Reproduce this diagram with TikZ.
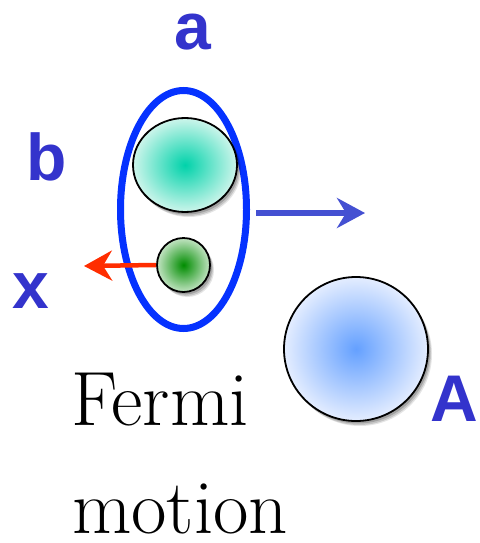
\documentclass[tikz,border=0pt]{standalone}
\usepackage{fontspec}
\newfontfamily\lblfont{Liberation Sans}[BoldFont={* Bold}]
\usetikzlibrary{shapes.geometric,arrows.meta,shadows}
\definecolor{lblblue}{RGB}{51,51,204}
\definecolor{ringblue}{RGB}{5,50,255}
\definecolor{arrblue}{RGB}{68,80,210}
\definecolor{arrred}{RGB}{255,45,0}
\definecolor{tealin}{RGB}{0,210,170}
\definecolor{tealout}{RGB}{205,245,235}
\definecolor{greenin}{RGB}{0,140,0}
\definecolor{greenout}{RGB}{195,228,195}
\definecolor{bluein}{RGB}{100,160,255}
\definecolor{blueout}{RGB}{228,237,255}
\tikzset{
  ball/.style={ellipse, draw=black, line width=1.8pt, inner sep=0pt,
    drop shadow={shadow xshift=4pt, shadow yshift=-5pt, opacity=0.10, fill=black},
    drop shadow={shadow xshift=3pt, shadow yshift=-4pt, opacity=0.14, fill=black},
    drop shadow={shadow xshift=2pt, shadow yshift=-2.5pt, opacity=0.18, fill=black}},
  lbl/.style={text=lblblue, font=\lblfont\bfseries\fontsize{66}{70}\selectfont, inner sep=0pt, anchor=base},
  body/.style={font=\rmfamily\fontsize{77}{90}\selectfont, inner sep=0pt, anchor=base west},
  tip/.style={-{Stealth[length=28pt, width=30pt, inset=9pt]}}
}
\begin{document}
\begin{tikzpicture}[x=1pt,y=-1pt]
\useasboundingbox (0,0) rectangle (479,543);
% pair
\node[ellipse, draw=ringblue, line width=7pt, minimum width=126pt, minimum height=238pt, inner sep=0pt] (pair) at (183.5,209.5) {};
\node[ball, inner color=tealin, outer color=tealout, minimum width=104pt, minimum height=94pt] (big) at (185,165) {};
\node[ball, inner color=greenin, outer color=greenout, minimum width=53pt, minimum height=54pt] (small) at (183.5,265) {};
\node[ball, inner color=bluein, outer color=blueout, minimum width=144pt, minimum height=144pt] (nuc) at (356,349) {};
% arrows
\coordinate (redtip) at (84,266);
\coordinate (bluestart) at (256,213);
\coordinate (bluetip) at (365,213);
\draw[tip, arrred, line width=4.5pt] (small.west) -- (redtip);
\draw[tip, arrblue, line width=5.5pt] (bluestart) -- (bluetip);
% labels
\node[lbl] (la) at (193,50) {a};
\node[lbl] (lb) at (47,180) {b};
\node[lbl] (lx) at (31,308) {x};
\node[lbl] (lA) at (454,421) {A};
\node[body] (fermi) at (71,425) {Fermi};
\node[body] (motion) at (72,533) {motion};
\end{tikzpicture}
\end{document}
